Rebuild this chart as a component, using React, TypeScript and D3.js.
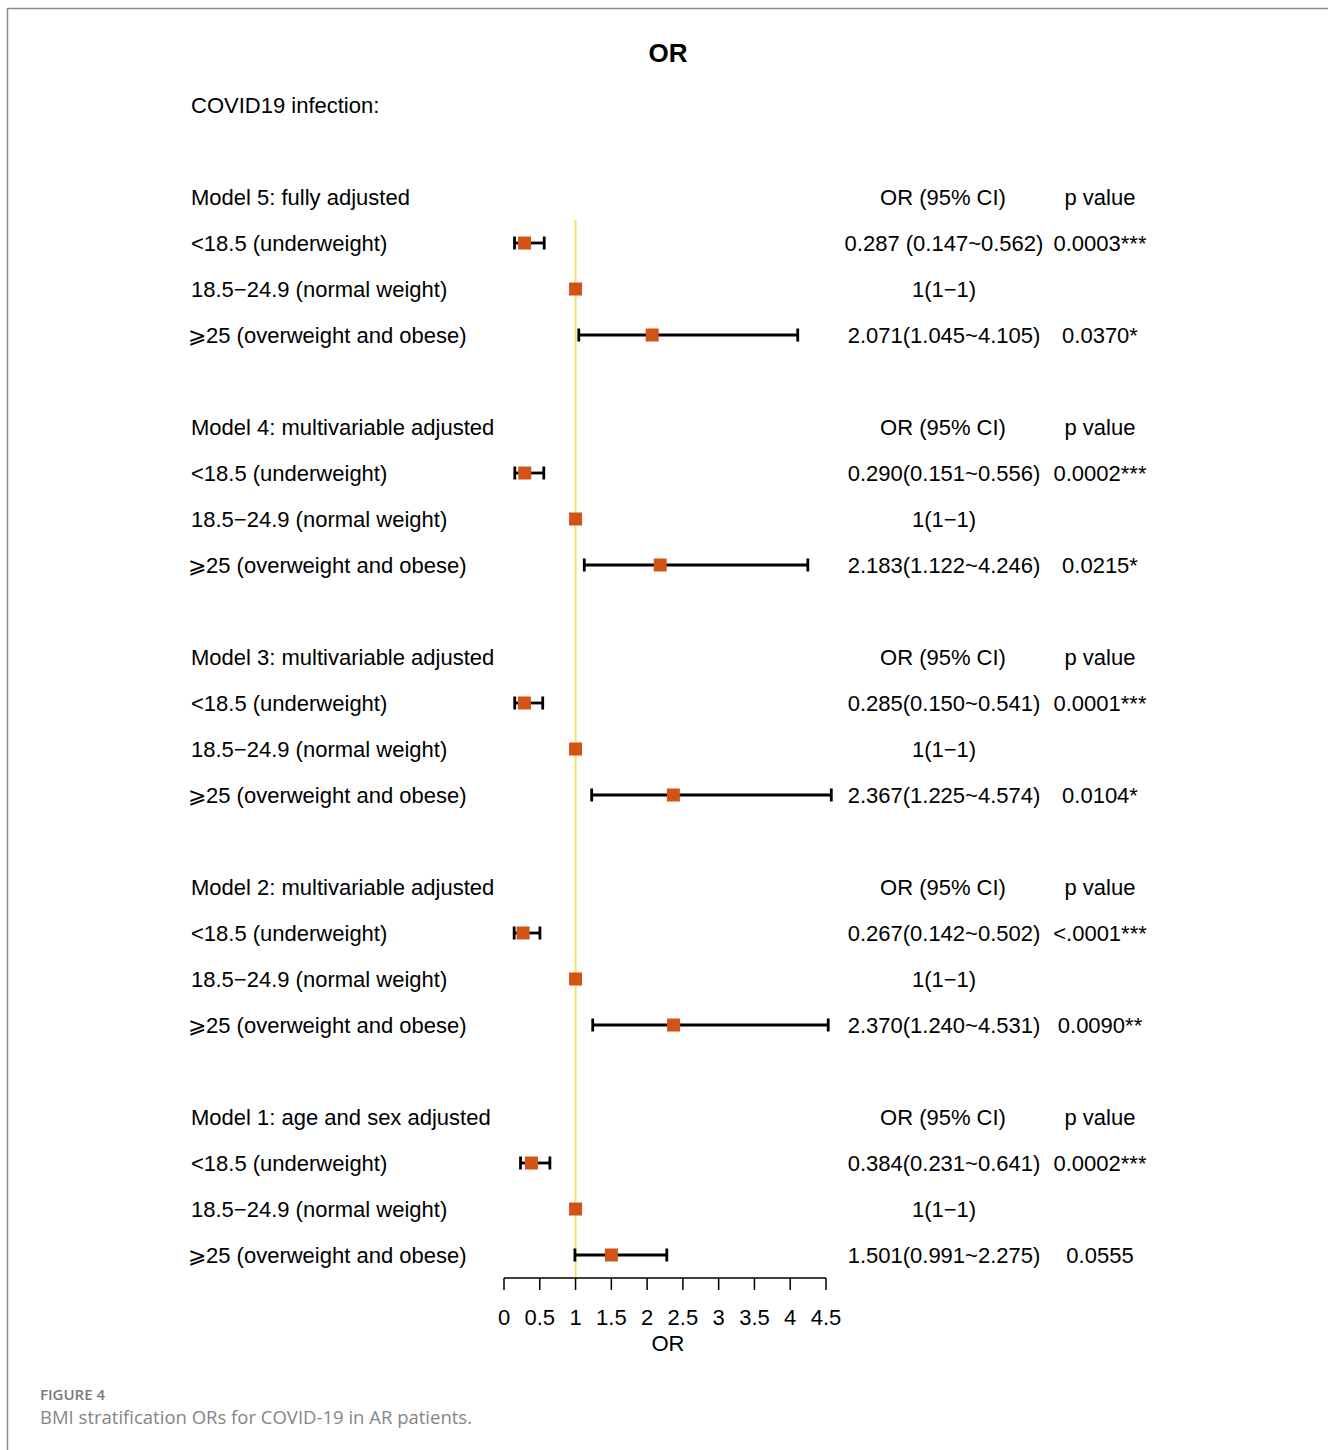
import React from "react";
import * as d3 from "d3";

const title = "OR";
const outcomeLabel = "COVID19 infection:";
const models = [
  "Model 5: fully adjusted",
  "Model 4: multivariable adjusted",
  "Model 3: multivariable adjusted",
  "Model 2: multivariable adjusted",
  "Model 1: age and sex adjusted",
];
const categories = [
  "<18.5 (underweight)",
  "18.5\u221224.9 (normal weight)",
  "\u2A7E25 (overweight and obese)",
];
const orValues = [
  [0.287, 1, 2.071],
  [0.29, 1, 2.183],
  [0.285, 1, 2.367],
  [0.267, 1, 2.37],
  [0.384, 1, 1.501],
];
const lowerCI = [
  [0.147, 1, 1.045],
  [0.151, 1, 1.122],
  [0.15, 1, 1.225],
  [0.142, 1, 1.24],
  [0.231, 1, 0.991],
];
const upperCI = [
  [0.562, 1, 4.105],
  [0.556, 1, 4.246],
  [0.541, 1, 4.574],
  [0.502, 1, 4.531],
  [0.641, 1, 2.275],
];
const ciLabels = [
  ["0.287 (0.147~0.562)", "1(1\u22121)", "2.071(1.045~4.105)"],
  ["0.290(0.151~0.556)", "1(1\u22121)", "2.183(1.122~4.246)"],
  ["0.285(0.150~0.541)", "1(1\u22121)", "2.367(1.225~4.574)"],
  ["0.267(0.142~0.502)", "1(1\u22121)", "2.370(1.240~4.531)"],
  ["0.384(0.231~0.641)", "1(1\u22121)", "1.501(0.991~2.275)"],
];
const pLabels = [
  ["0.0003***", "", "0.0370*"],
  ["0.0002***", "", "0.0215*"],
  ["0.0001***", "", "0.0104*"],
  ["<.0001***", "", "0.0090**"],
  ["0.0002***", "", "0.0555"],
];
const colHeaders = ["OR (95% CI)", "p value"];
const tickValues = [0, 0.5, 1, 1.5, 2, 2.5, 3, 3.5, 4, 4.5];
const refValue = 1;
const axisLabel = "OR";
const captionTitle = "FIGURE 4";
const captionText = "BMI stratification ORs for COVID-19 in AR patients.";

const W = 1328;
const H = 1450;
const FONT = "'Liberation Sans', Arial, sans-serif";

export default function App() {
  const x = d3.scaleLinear().domain([0, 4.5]).range([504, 826]);
  const y = d3.scaleLinear().domain([0, 1]).range([197, 243]);
  const rowsPerGroup = 5;
  const axisY = 1278;
  const ciX = 944;
  const pX = 1100;
  const labelX = 191;
  const sq = 13;
  const fs = 22;

  const rows: any[] = [];
  models.forEach((m, i) => {
    categories.forEach((c, k) => {
      rows.push({
        i,
        k,
        r: i * rowsPerGroup + k + 1,
        or: orValues[i][k],
        lo: lowerCI[i][k],
        hi: upperCI[i][k],
        label: c,
        ci: ciLabels[i][k],
        p: pLabels[i][k],
      });
    });
  });

  return (
    <div style={{ position: "absolute", left: 0, top: 0 }}>
      <svg width={W} height={H} style={{ display: "block" }}>
        <rect x={0} y={0} width={W} height={H} fill="#fff" />
        <line x1={7} y1={8.5} x2={W} y2={8.5} stroke="#8a8a8a" strokeWidth={1.5} />
        <line x1={7.5} y1={8} x2={7.5} y2={H} stroke="#8a8a8a" strokeWidth={1.5} />

        <text x={668} y={53} textAnchor="middle" dominantBaseline="central" fontFamily={FONT} fontWeight="bold" fontSize={26} fill="#000">
          {title}
        </text>
        <text x={labelX} y={y(-2)} dominantBaseline="central" fontFamily={FONT} fontSize={fs} fill="#000">
          {outcomeLabel}
        </text>

        {/* reference line */}
        <line x1={x(refValue)} x2={x(refValue)} y1={y(0.5)} y2={axisY} stroke="#F2E26A" strokeWidth={2} />

        {models.map((m, i) => (
          <g key={m}>
            <text x={labelX} y={y(i * rowsPerGroup)} dominantBaseline="central" fontFamily={FONT} fontSize={fs}>
              {m}
            </text>
            <text x={943} y={y(i * rowsPerGroup)} textAnchor="middle" dominantBaseline="central" fontFamily={FONT} fontSize={fs}>
              {colHeaders[0]}
            </text>
            <text x={pX} y={y(i * rowsPerGroup)} textAnchor="middle" dominantBaseline="central" fontFamily={FONT} fontSize={fs}>
              {colHeaders[1]}
            </text>
          </g>
        ))}

        {rows.map((d, idx) => {
          const cy = y(d.r);
          return (
            <g key={idx}>
              <text x={d.k === 2 ? labelX - 3 : labelX} y={cy} dominantBaseline="central" fontFamily={FONT} fontSize={fs}>
                {d.label}
              </text>
              {d.lo !== d.hi && (
                <g stroke="#000" strokeWidth={2.8}>
                  <line x1={x(d.lo)} x2={x(d.hi)} y1={cy} y2={cy} />
                  <line x1={x(d.lo)} x2={x(d.lo)} y1={cy - 6.5} y2={cy + 6.5} />
                  <line x1={x(d.hi)} x2={x(d.hi)} y1={cy - 6.5} y2={cy + 6.5} />
                </g>
              )}
              <rect x={x(d.or) - sq / 2} y={cy - sq / 2} width={sq} height={sq} fill="#D15416" />
              <text x={ciX} y={cy} textAnchor="middle" dominantBaseline="central" fontFamily={FONT} fontSize={fs}>
                {d.ci}
              </text>
              {d.p && (
                <text x={pX} y={cy} textAnchor="middle" dominantBaseline="central" fontFamily={FONT} fontSize={fs}>
                  {d.p}
                </text>
              )}
            </g>
          );
        })}

        {/* axis */}
        <g stroke="#000" strokeWidth={1.5}>
          <line x1={x(0)} x2={x(4.5)} y1={axisY} y2={axisY} />
          {tickValues.map((t) => (
            <line key={t} x1={x(t)} x2={x(t)} y1={axisY} y2={axisY + 12} />
          ))}
        </g>
        {tickValues.map((t) => (
          <text key={t} x={x(t)} y={1317} textAnchor="middle" dominantBaseline="central" fontFamily={FONT} fontSize={fs}>
            {String(t)}
          </text>
        ))}
        <text x={668} y={1343} textAnchor="middle" dominantBaseline="central" fontFamily={FONT} fontSize={fs}>
          {axisLabel}
        </text>

        <text x={40} y={1400} fontFamily="'Open Sans', sans-serif" fontWeight={600} fontSize={15} fill="#7a7a7a">
          {captionTitle}
        </text>
        <text x={40} y={1424} fontFamily="'Open Sans', sans-serif" fontSize={18.5} fill="#858585">
          {captionText}
        </text>
      </svg>
    </div>
  );
}
